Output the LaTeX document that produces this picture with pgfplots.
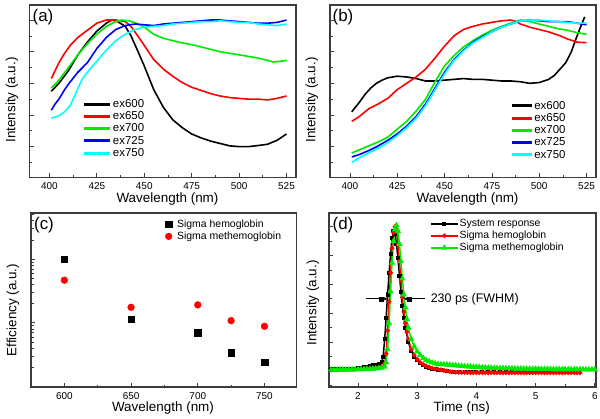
\documentclass[border=0pt]{standalone}
\usepackage{pgfplots}
\pgfplotsset{compat=1.18}
\usepackage{fontspec}
\setmainfont{Liberation Sans}
\usetikzlibrary{arrows.meta}
\definecolor{cgreen}{RGB}{0,235,0}
\definecolor{ccyan}{RGB}{0,255,255}
\definecolor{frame}{RGB}{60,60,60}
\pgfplotsset{
 panel/.style={scale only axis, anchor=south west,
   axis line style={frame, line width=1.1bp},
   tick align=inside, xtick pos=bottom, ytick pos=left,
   tick style={frame, line width=0.7bp},
   major tick length=4bp, minor tick length=2.5bp,
   yticklabels={},
   xticklabel style={font=\fontsize{10}{10}\selectfont, yshift=-2bp},
   /pgf/number format/assume math mode=true,
   /pgf/number format/1000 sep={}},
 spec/.style={panel, width=266.5bp, height=172.5bp,
   xmin=389.5, xmax=530, ymin=0.005, ymax=1.095,
   xtick={400,425,...,525}, ytick={0,0.2,0.4,0.6,0.8,1.0,1.2},
   minor x tick num=1, minor y tick num=1,
   legend cell align=left,
   legend style={draw=none, fill=none, font=\fontsize{11.5}{12}\selectfont,
     inner sep=0pt, row sep=0.8bp, nodes={inner sep=1bp}},
   every axis plot/.append style={line width=1.6bp, no markers}},
 lgA/.style={legend image code/.code={\draw[##1, line width=3bp] (0bp,0bp) -- (26bp,0bp);}},
 lgB/.style={legend image code/.code={\draw[##1, line width=3bp] (0bp,0bp) -- (20bp,0bp);}},
}
\begin{document}
\begin{tikzpicture}
\useasboundingbox (0bp,0bp) rectangle (600bp,419bp);
% ---------------- (a)
\begin{axis}[spec, lgA, at={(29.5bp,241.5bp)},
  legend style={at={(axis description cs:0.2,0.46)}, anchor=north west}]
\addplot[black] coordinates {(401,0.55)(405,0.60)(410,0.68)(415,0.78)(420,0.86)(425,0.93)(430,0.98)(433,1.00)(436,0.99)(440,0.96)(443,0.90)(446,0.82)(450,0.71)(455,0.56)(460,0.45)(465,0.37)(470,0.32)(475,0.28)(480,0.255)(485,0.235)(490,0.22)(495,0.205)(500,0.200)(505,0.200)(510,0.207)(515,0.215)(520,0.24)(525,0.28)};
\addlegendentry{ex600}
\addplot[red] coordinates {(401,0.63)(403,0.68)(405,0.73)(408,0.79)(411,0.84)(415,0.89)(420,0.935)(425,0.98)(430,1.00)(435,1.00)(440,0.99)(443,0.96)(446,0.91)(450,0.84)(455,0.75)(460,0.69)(465,0.645)(470,0.605)(475,0.575)(480,0.555)(485,0.535)(490,0.52)(495,0.51)(500,0.505)(505,0.50)(510,0.50)(515,0.495)(520,0.505)(525,0.52)};
\addlegendentry{ex650}
\addplot[cgreen] coordinates {(401,0.57)(405,0.62)(410,0.70)(415,0.78)(420,0.85)(425,0.91)(430,0.96)(435,0.99)(438,1.00)(442,0.995)(446,0.98)(450,0.955)(455,0.91)(460,0.885)(465,0.87)(470,0.855)(475,0.845)(480,0.83)(485,0.815)(490,0.80)(495,0.79)(500,0.78)(505,0.77)(510,0.76)(515,0.745)(518,0.735)(522,0.74)(525,0.745)};
\addlegendentry{ex700}
\addplot[blue] coordinates {(401,0.43)(403,0.47)(405,0.50)(408,0.56)(411,0.61)(415,0.67)(420,0.73)(425,0.82)(430,0.89)(435,0.94)(440,0.965)(445,0.975)(450,0.97)(455,0.965)(460,0.975)(465,0.98)(470,0.985)(475,0.99)(480,0.995)(485,1.0)(490,1.0)(495,0.995)(500,0.99)(505,0.985)(510,0.98)(515,0.98)(520,0.985)(525,1.0)};
\addlegendentry{ex725}
\addplot[ccyan] coordinates {(401,0.38)(405,0.395)(408,0.42)(411,0.46)(414,0.54)(417,0.62)(420,0.67)(425,0.74)(430,0.81)(435,0.87)(440,0.91)(445,0.94)(450,0.955)(455,0.96)(460,0.965)(465,0.975)(470,0.98)(475,0.985)(480,0.99)(485,0.99)(490,0.995)(495,0.99)(500,0.985)(505,0.985)(510,0.975)(515,0.97)(520,0.965)(525,0.975)};
\addlegendentry{ex750}
\end{axis}
% ---------------- (b)
\begin{axis}[spec, lgB, width=266bp, at={(330bp,241.5bp)},
  legend style={at={(axis description cs:0.677,0.45)}, anchor=north west}]
\addplot[black] coordinates {(401,0.42)(403,0.45)(405,0.48)(408,0.53)(411,0.57)(414,0.60)(417,0.62)(420,0.635)(425,0.645)(430,0.64)(435,0.63)(440,0.615)(445,0.615)(450,0.62)(455,0.625)(460,0.63)(465,0.625)(470,0.625)(475,0.62)(480,0.615)(485,0.615)(490,0.61)(495,0.60)(500,0.605)(505,0.625)(508,0.65)(511,0.69)(514,0.73)(517,0.80)(520,0.90)(522,0.96)(524,1.02)};
\addlegendentry{ex600}
\addplot[red] coordinates {(401,0.36)(405,0.39)(410,0.44)(415,0.47)(420,0.505)(425,0.56)(430,0.60)(435,0.64)(440,0.69)(445,0.76)(450,0.835)(455,0.90)(460,0.94)(465,0.96)(470,0.975)(475,0.985)(480,0.995)(485,1.0)(488,0.99)(490,0.975)(495,0.955)(500,0.94)(505,0.925)(510,0.905)(515,0.88)(520,0.86)(525,0.857)};
\addlegendentry{ex650}
\addplot[cgreen] coordinates {(401,0.16)(405,0.18)(410,0.205)(415,0.23)(420,0.26)(425,0.31)(430,0.36)(435,0.425)(440,0.50)(445,0.61)(450,0.71)(455,0.775)(460,0.83)(465,0.87)(470,0.905)(475,0.935)(480,0.96)(485,0.98)(490,1.0)(495,0.99)(500,0.975)(505,0.96)(510,0.945)(515,0.935)(520,0.92)(525,0.91)};
\addlegendentry{ex700}
\addplot[blue] coordinates {(401,0.135)(405,0.15)(410,0.175)(415,0.205)(420,0.24)(425,0.28)(430,0.33)(435,0.39)(440,0.47)(445,0.57)(450,0.67)(455,0.75)(460,0.81)(465,0.86)(470,0.895)(475,0.925)(480,0.955)(485,0.975)(490,0.995)(495,1.0)(500,0.995)(505,0.99)(510,0.99)(515,0.99)(520,0.98)(525,0.97)};
\addlegendentry{ex725}
\addplot[ccyan] coordinates {(401,0.10)(405,0.13)(410,0.16)(415,0.19)(420,0.225)(425,0.27)(430,0.32)(435,0.38)(440,0.46)(445,0.56)(450,0.66)(455,0.745)(460,0.805)(465,0.855)(470,0.89)(475,0.925)(480,0.955)(485,0.975)(490,0.995)(495,1.0)(500,1.0)(505,0.995)(510,0.99)(515,0.985)(520,0.98)(525,0.98)};
\addlegendentry{ex750}
\end{axis}
% ---------------- (c)
\begin{axis}[panel, width=265.5bp, height=174bp, at={(31bp,32bp)},
  ymode=log, xmin=575, xmax=774, ymin=0.0098, ymax=5.3,
  xtick={600,650,700,750}, minor x tick num=1,
  ytick={0.01,0.1,1,10},
  minor ytick={0.02,0.03,0.04,0.05,0.06,0.07,0.08,0.09,0.2,0.3,0.4,0.5,0.6,0.7,0.8,0.9,2,3,4,5},
  legend cell align=left,
  legend image code/.code={\draw[mark repeat=2,mark phase=2,#1] plot coordinates {(0bp,0bp) (5bp,0bp) (10bp,0bp)};},
  legend style={draw=none, fill=none, font=\fontsize{10.5}{11}\selectfont, inner sep=0pt, row sep=1bp,
    nodes={inner sep=1bp}, /tikz/every odd column/.append style={column sep=4bp},
    at={(axis description cs:0.505,0.968)}, anchor=north west}]
\addplot[only marks, mark=square*, mark size=3.3bp, black] coordinates {(600,1.0)(650,0.1135)(700,0.070)(725,0.034)(750,0.0241)};
\addlegendentry{Sigma hemoglobin}
\addplot[only marks, mark=*, mark size=3.4bp, red] coordinates {(600,0.467)(650,0.175)(700,0.191)(725,0.108)(750,0.088)};
\addlegendentry{Sigma methemoglobin}
\end{axis}
% ---------------- (d)
\begin{axis}[panel, width=267bp, height=174bp, at={(329bp,32bp)},
  xmin=1.51, xmax=6.02, ymin=-0.111, ymax=1.095,
  xtick={2,3,4,5,6}, minor x tick num=1,
  ytick={-0.2,0,0.2,0.4,0.6,0.8,1.0,1.2}, minor y tick num=1,
  legend cell align=left,
  legend image code/.code={\draw[mark repeat=2,mark phase=2,#1] plot coordinates {(0bp,0bp) (13.5bp,0bp) (27bp,0bp)};},
  legend style={draw=none, fill=none, font=\fontsize{10.5}{11}\selectfont, inner sep=0pt, row sep=1bp,
    nodes={inner sep=1bp}, at={(axis description cs:0.378,0.97)}, anchor=north west}]
\addplot[black, line width=1.5bp, mark=square*, mark size=1.3bp] coordinates {
(1.50,0.010)(1.55,0.010)(1.60,0.012)(1.65,0.010)(1.70,0.012)(1.75,0.012)(1.80,0.013)(1.85,0.013)(1.90,0.015)(1.95,0.016)
(2.00,0.019)(2.05,0.022)(2.10,0.026)(2.15,0.030)(2.20,0.034)(2.25,0.038)(2.30,0.042)(2.35,0.048)(2.40,0.060)
(2.425,0.10)(2.45,0.22)(2.475,0.37)(2.50,0.53)(2.525,0.68)(2.55,0.81)(2.575,0.92)(2.60,0.97)(2.625,0.95)(2.65,0.88)
(2.675,0.78)(2.70,0.66)(2.725,0.55)(2.75,0.45)(2.775,0.37)(2.80,0.30)(2.85,0.20)(2.90,0.14)(2.95,0.10)(3.00,0.075)
(3.05,0.055)(3.10,0.040)(3.15,0.030)(3.20,0.022)(3.25,0.016)(3.30,0.012)(3.35,0.008)(3.40,0.005)(3.50,0.0)
(3.60,-0.005)(3.70,-0.008)(3.80,-0.008)(3.90,-0.01)(4.00,-0.01)(4.10,-0.01)(4.20,-0.01)(4.30,-0.01)(4.40,-0.01)
(4.50,-0.01)(4.60,-0.01)(4.70,-0.01)(4.80,-0.01)(4.90,-0.01)(5.00,-0.01)(5.10,-0.01)(5.20,-0.01)};
\addlegendentry{System response}
\addplot[red, line width=1.5bp, mark=*, mark size=1.5bp] coordinates {
(1.50,0.008)(1.55,0.008)(1.60,0.009)(1.65,0.008)(1.70,0.009)(1.75,0.009)(1.80,0.010)(1.85,0.010)(1.90,0.011)(1.95,0.012)
(2.00,0.013)(2.05,0.014)(2.10,0.015)(2.15,0.016)(2.20,0.018)(2.25,0.019)(2.30,0.020)(2.35,0.025)(2.40,0.030)
(2.45,0.05)(2.475,0.12)(2.50,0.28)(2.525,0.48)(2.55,0.68)(2.575,0.85)(2.60,0.96)(2.625,1.0)(2.65,0.97)(2.675,0.88)
(2.70,0.76)(2.725,0.63)(2.75,0.51)(2.775,0.41)(2.80,0.33)(2.825,0.27)(2.85,0.22)(2.90,0.15)(2.95,0.11)(3.00,0.08)
(3.05,0.06)(3.10,0.045)(3.15,0.035)(3.20,0.027)(3.25,0.02)(3.30,0.015)(3.35,0.012)(3.40,0.008)(3.45,0.004)(3.50,0.0)
(3.55,-0.004)(3.60,-0.006)(3.65,-0.008)(3.70,-0.009)(3.75,-0.01)(3.80,-0.01)(3.85,-0.011)(3.90,-0.011)(3.95,-0.012)
(4.00,-0.012)(4.05,-0.012)(4.10,-0.012)(4.15,-0.012)(4.20,-0.012)(4.25,-0.012)(4.30,-0.012)(4.35,-0.012)(4.40,-0.012)
(4.45,-0.012)(4.50,-0.012)(4.55,-0.012)(4.60,-0.012)(4.65,-0.012)(4.70,-0.012)(4.75,-0.012)(4.80,-0.012)(4.85,-0.012)
(4.90,-0.012)(4.95,-0.012)(5.00,-0.012)(5.05,-0.012)(5.10,-0.012)(5.15,-0.012)(5.20,-0.012)(5.25,-0.012)(5.30,-0.012)
(5.35,-0.012)(5.40,-0.012)(5.45,-0.012)(5.50,-0.012)(5.55,-0.012)(5.60,-0.012)(5.65,-0.012)(5.70,-0.012)(5.75,-0.012)};
\addlegendentry{Sigma hemoglobin}
\addplot[cgreen, line width=1.5bp, mark=triangle*, mark size=2.2bp] coordinates {
(1.50,0.008)(1.55,0.008)(1.60,0.008)(1.65,0.008)(1.70,0.009)(1.75,0.009)(1.80,0.009)(1.85,0.010)(1.90,0.010)(1.95,0.010)
(2.00,0.011)(2.05,0.011)(2.10,0.012)(2.15,0.013)(2.20,0.014)(2.25,0.015)(2.30,0.017)(2.35,0.019)(2.40,0.022)
(2.45,0.03)(2.475,0.06)(2.50,0.15)(2.525,0.33)(2.55,0.55)(2.575,0.75)(2.60,0.90)(2.625,0.98)(2.65,1.01)(2.675,0.97)
(2.70,0.88)(2.725,0.76)(2.75,0.64)(2.775,0.53)(2.80,0.44)(2.825,0.36)(2.85,0.30)(2.90,0.22)(2.95,0.17)(3.00,0.135)
(3.05,0.11)(3.10,0.09)(3.15,0.076)(3.20,0.066)(3.25,0.058)(3.30,0.052)(3.35,0.048)(3.40,0.046)(3.45,0.045)(3.50,0.044)
(3.55,0.042)(3.60,0.040)(3.65,0.038)(3.70,0.036)(3.75,0.034)(3.80,0.032)(3.85,0.031)(3.90,0.030)(3.95,0.028)
(4.00,0.027)(4.05,0.026)(4.10,0.024)(4.15,0.023)(4.20,0.022)(4.25,0.021)(4.30,0.020)(4.35,0.020)(4.40,0.019)
(4.45,0.019)(4.50,0.018)(4.55,0.018)(4.60,0.017)(4.65,0.017)(4.70,0.016)(4.75,0.016)(4.80,0.015)(4.85,0.015)
(4.90,0.015)(4.95,0.014)(5.00,0.014)(5.05,0.014)(5.10,0.013)(5.15,0.013)(5.20,0.013)(5.25,0.013)(5.30,0.012)
(5.35,0.012)(5.40,0.012)(5.45,0.012)(5.50,0.012)(5.55,0.011)(5.60,0.011)(5.65,0.011)(5.70,0.011)(5.75,0.011)
(5.80,0.010)(5.85,0.010)(5.90,0.010)(5.95,0.010)(6.00,0.010)};
\addlegendentry{Sigma methemoglobin}
\addplot[black, line width=1bp, -{Stealth[length=4bp,width=3.5bp]}, forget plot] coordinates {(2.14,0.5)(2.50,0.5)};
\addplot[black, line width=1bp, -{Stealth[length=4bp,width=3.5bp]}, forget plot] coordinates {(3.13,0.5)(2.77,0.5)};
\addplot[black, only marks, mark=square*, mark size=2bp, forget plot] coordinates {(2.395,0.5)(2.87,0.5)};
\node[anchor=west, font=\fontsize{12.5}{13}\selectfont] at (axis cs:3.17,0.5) {230 ps (FWHM)};
\end{axis}
% ---------------- labels
\node[rotate=90, font=\fontsize{13.5}{14}\selectfont] at (12bp,319bp) {Intensity (a.u.)};
\node[rotate=90, font=\fontsize{13.5}{14}\selectfont] at (312bp,319bp) {Intensity (a.u.)};
\node[rotate=90, font=\fontsize{13.5}{14}\selectfont] at (13bp,109bp) {Efficiency (a.u.)};
\node[rotate=90, font=\fontsize{13.5}{14}\selectfont] at (313bp,116bp) {Intensity (a.u.)};
\node[font=\fontsize{13.5}{14}\selectfont] at (167.5bp,219.5bp) {Wavelength (nm)};
\node[font=\fontsize{13.5}{14}\selectfont] at (467.5bp,219.5bp) {Wavelength (nm)};
\node[font=\fontsize{13.5}{14}\selectfont] at (163bp,10.5bp) {Wavelength (nm)};
\node[font=\fontsize{13.5}{14}\selectfont] at (461.7bp,10.5bp) {Time (ns)};
\node[font=\fontsize{17}{18}\selectfont] at (43bp,401.5bp) {(a)};
\node[font=\fontsize{17}{18}\selectfont] at (343bp,401.5bp) {(b)};
\node[font=\fontsize{17}{18}\selectfont] at (44bp,194bp) {(c)};
\node[font=\fontsize{17}{18}\selectfont] at (343bp,194bp) {(d)};
\end{tikzpicture}
\end{document}
